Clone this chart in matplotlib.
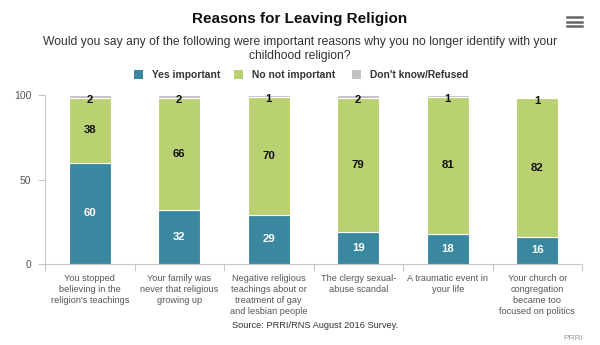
import matplotlib
matplotlib.use("Agg")
import matplotlib.pyplot as plt
import numpy as np
from matplotlib.patches import Rectangle

plt.rcParams["font.family"] = ["Liberation Sans", "DejaVu Sans"]

categories = [
    "You stopped\nbelieving in the\nreligion's teachings",
    "Your family was\nnever that religious\ngrowing up",
    "Negative religious\nteachings about or\ntreatment of gay\nand lesbian people",
    "The clergy sexual-\nabuse scandal",
    "A traumatic event in\nyour life",
    "Your church or\ncongregation\nbecame too\nfocused on politics",
]
yes_important = [60, 32, 29, 19, 18, 16]
not_important = [38, 66, 70, 79, 81, 82]
dont_know = [2, 2, 1, 2, 1, 1]
series_names = ["Yes important", "No not important", "Don't know/Refused"]
colors = ["#3a889f", "#b9d171", "#c2c2c2"]
yticks = [0, 50, 100]

fig = plt.figure(figsize=(6.0, 3.45), dpi=100)
fig.patch.set_facecolor("white")
W, H = 600, 345
ax = fig.add_axes([45 / W, 1 - 264 / H, 537 / W, 169 / H])

x = np.arange(len(categories))
bw = 0.47
series = [yes_important, not_important, dont_know]
bottom = np.zeros(len(categories))
for vals, col in zip(series, colors):
    ax.bar(x, vals, bw, bottom=bottom, color=col, edgecolor="white", linewidth=0.8, zorder=3)
    bottom += np.array(vals)

# data labels
bottom = np.zeros(len(categories))
for si, vals in enumerate(series):
    for i, v in enumerate(vals):
        yc = bottom[i] + v / 2
        if si == 2:
            yc = bottom[i] + v / 2 - 2.0
        ax.text(x[i], yc, str(v), ha="center", va="center", fontsize=8.2, fontweight="bold",
                color="white" if si == 0 else "#111111", zorder=4)
    bottom += np.array(vals)

ax.set_xlim(-0.5, len(categories) - 0.5)
ax.set_ylim(0, 100)
ax.set_yticks(yticks)
ax.set_yticklabels([str(t) for t in yticks], fontsize=7.5, color="#555555")
ax.tick_params(axis="y", length=5, width=0.8, color="#c8c8c8", pad=5)
ax.set_xticks(np.arange(-0.5, len(categories)), minor=False)
ax.set_xticklabels([])
ax.tick_params(axis="x", length=5, width=0.8, color="#c8c8c8")
for s in ["top", "right"]:
    ax.spines[s].set_visible(False)
ax.spines["left"].set_color("#c8c8c8")
ax.spines["bottom"].set_color("#c8c8c8")
ax.spines["left"].set_linewidth(0.8)
ax.spines["bottom"].set_linewidth(0.8)

for i, c in enumerate(categories):
    ax.text(x[i], -5.8, c, ha="center", va="top", fontsize=6.6, color="#555555",
            linespacing=1.3, transform=ax.transData)

# Titles
fig.text(0.5, 1 - 19 / H, "Reasons for Leaving Religion", ha="center", va="center",
         fontsize=11, fontweight="bold", color="#111111")
fig.text(0.5, 1 - 49 / H,
         "Would you say any of the following were important reasons why you no longer identify with your\nchildhood religion?",
         ha="center", va="center", fontsize=8.75, color="#333333", linespacing=1.3)

# Legend
leg_items = [(134, series_names[0]), (234, series_names[1]), (352, series_names[2])]
for (lx, name), col in zip(leg_items, colors):
    fig.patches.append(Rectangle((lx / W, 1 - 79 / H), 9 / W, 9 / H, transform=fig.transFigure,
                                 facecolor=col, edgecolor="none"))
    fig.text((lx + 18) / W, 1 - 74.5 / H, name, ha="left", va="center", fontsize=7.4,
             fontweight="bold", color="#333333")

# Source and credit
fig.text(315 / W, 1 - 325 / H, "Source: PRRI/RNS August 2016 Survey.", ha="center", va="center",
         fontsize=6.7, color="#333333")
fig.text(583 / W, 1 - 339 / H, "PRRI", ha="right", va="center", fontsize=6, color="#999999")

# menu icon
for yy in [17, 21.5, 26]:
    fig.add_artist(plt.Line2D([567 / W, 582 / W], [1 - yy / H, 1 - yy / H], transform=fig.transFigure,
                              color="#666666", linewidth=1.8))

fig.savefig("out.png", dpi=100, facecolor="white")
